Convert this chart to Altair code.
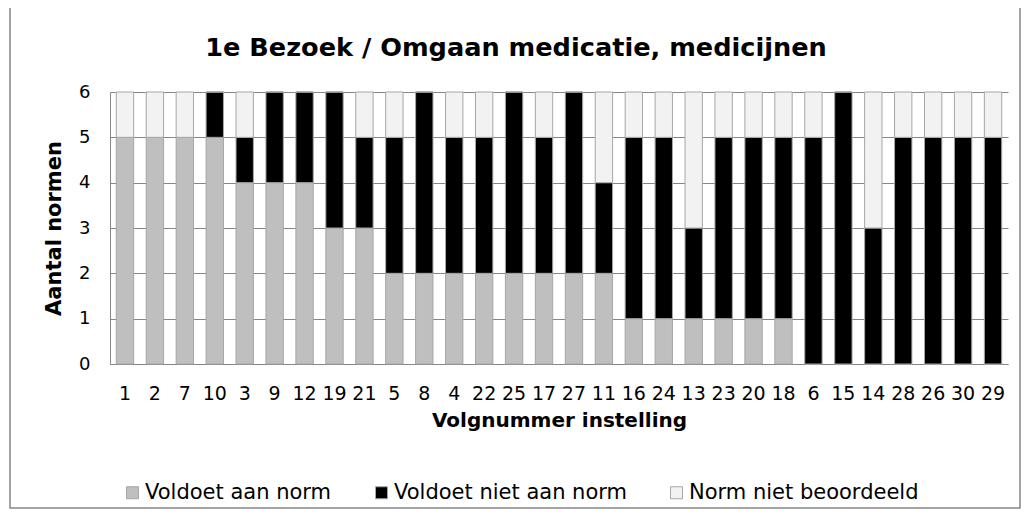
import altair as alt
import pandas as pd

categories = ["1", "2", "7", "10", "3", "9", "12", "19", "21", "5", "8", "4", "22", "25", "17",
              "27", "11", "16", "24", "13", "23", "20", "18", "6", "15", "14", "28", "26", "30", "29"]
voldoet = [5, 5, 5, 5, 4, 4, 4, 3, 3, 2, 2, 2, 2, 2, 2, 2, 2, 1, 1, 1, 1, 1, 1, 0, 0, 0, 0, 0, 0, 0]
voldoet_niet = [0, 0, 0, 1, 1, 2, 2, 3, 2, 3, 4, 3, 3, 4, 3, 4, 2, 4, 4, 2, 4, 4, 4, 5, 6, 3, 5, 5, 5, 5]
niet_beoordeeld = [1, 1, 1, 0, 1, 0, 0, 0, 1, 1, 0, 1, 1, 0, 1, 0, 2, 1, 1, 3, 1, 1, 1, 1, 0, 3, 1, 1, 1, 1]
series_names = ["Voldoet aan norm", "Voldoet niet aan norm", "Norm niet beoordeeld"]
series_colors = ["#bfbfbf", "#000000", "#f2f2f2"]
title_text = "1e Bezoek / Omgaan medicatie, medicijnen"

rows = []
for i, c in enumerate(categories):
    for k, (name, vals) in enumerate(zip(series_names, [voldoet, voldoet_niet, niet_beoordeeld])):
        rows.append({"cat": c, "serie": name, "val": vals[i], "ord": k})
df = pd.DataFrame(rows)

FONT = "DejaVu Sans"
W, H = 898, 272

bars = alt.Chart(df).mark_bar(stroke="#a6a6a6", strokeWidth=1).encode(
    x=alt.X("cat:N", sort=categories,
            scale=alt.Scale(paddingInner=0.42, paddingOuter=0.21),
            axis=alt.Axis(title="Volgnummer  instelling", labelAngle=0, ticks=False,
                          labelOverlap=False, labelPadding=20, titlePadding=7,
                          labelFontSize=19, domainColor="#868686")),
    y=alt.Y("val:Q", stack="zero",
            scale=alt.Scale(domain=[0, 6]),
            axis=alt.Axis(title="Aantal normen", values=[0, 1, 2, 3, 4, 5, 6], ticks=False,
                          labelPadding=20, titlePadding=14, labelFontSize=18,
                          titleFontSize=21, gridColor="#868686",
                          domainColor="#868686")),
    color=alt.Color("serie:N", sort=series_names,
                    scale=alt.Scale(domain=series_names, range=series_colors),
                    legend=alt.Legend(title=None, orient="none", direction="horizontal",
                                      legendX=12, legendY=390, symbolType="square",
                                      symbolSize=144, symbolStrokeColor="#a6a6a6",
                                      symbolStrokeWidth=1, labelFontSize=21,
                                      labelFont=FONT, labelColor="#000000",
                                      labelLimit=400, columnPadding=39, labelOffset=2)),
    order=alt.Order("ord:Q"),
)

one = pd.DataFrame({"t": [title_text]})

frame = alt.Chart(one).mark_rect(
    fill=None, stroke="#868686", strokeWidth=1.5, clip=False
).encode(
    x=alt.value(-100), x2=alt.value(910), y=alt.value(-91), y2=alt.value(416)
)

title = alt.Chart(one).mark_text(
    font=FONT, fontSize=25.6, fontWeight="bold", color="#000000",
    align="center", baseline="alphabetic", clip=False
).encode(x=alt.value(406), y=alt.value(-36), text="t:N")

chart = alt.layer(frame, bars, title).properties(
    width=W, height=H,
    background="#ffffff",
    autosize=alt.AutoSizeParams(type="none"),
    padding={"left": 102, "top": 84, "right": 16, "bottom": 152},
).configure_axis(
    labelFont=FONT, labelColor="#000000",
    titleFont=FONT, titleFontSize=20, titleFontWeight="bold", titleColor="#000000",
).configure_view(stroke=None)

chart.save("out.html", embed_options={"renderer": "svg", "actions": False})
